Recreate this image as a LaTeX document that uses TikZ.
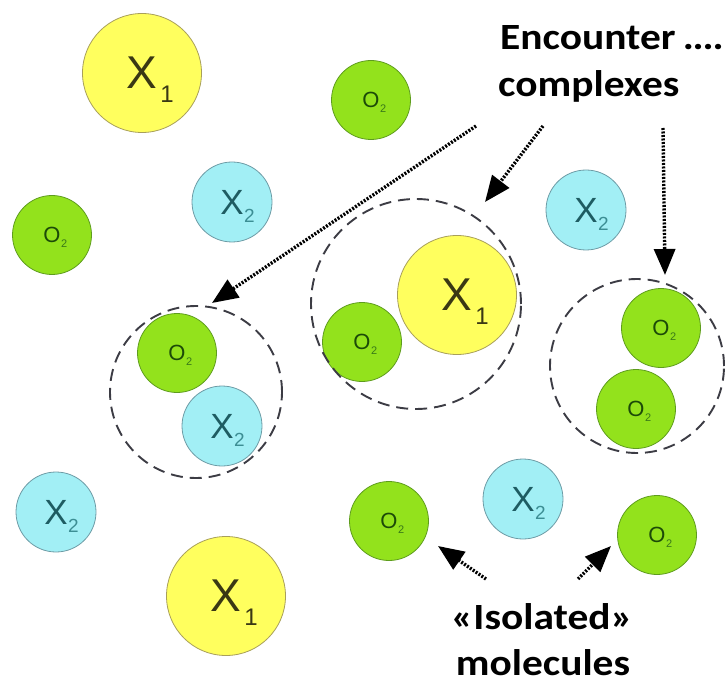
\documentclass[tikz,border=0pt]{standalone}
\usepackage{fontspec}
\usetikzlibrary{arrows.meta}
\newfontfamily\molfont{Liberation Sans}
\newfontfamily\tagfont{Carlito}
\definecolor{yf}{HTML}{FFFF5E}
\definecolor{yb}{HTML}{A89F5A}
\definecolor{gf}{HTML}{93E21C}
\definecolor{gb}{HTML}{5E9C1E}
\definecolor{cf}{HTML}{A2EFF5}
\definecolor{cb}{HTML}{6E9CA6}
\definecolor{xonec}{HTML}{3A3814}
\definecolor{xtwoc}{HTML}{1E5C62}
\definecolor{xtwos}{HTML}{3C8E94}
\definecolor{otwoc}{HTML}{1C4A08}
\definecolor{otwos}{HTML}{3A7A18}
\definecolor{dgray}{HTML}{3C3C44}
\newcommand{\labXone}{{\fontsize{46}{46}\selectfont X}\rlap{\smash{\raisebox{-14pt}{\kern3pt\fontsize{24}{24}\selectfont 1}}}}
\newcommand{\labXtwo}{{\fontsize{35}{35}\selectfont X}\rlap{\smash{\raisebox{-8pt}{\kern0.5pt\color{xtwos}\fontsize{19}{19}\selectfont 2}}}}
\newcommand{\labOtwo}{{\fontsize{22}{22}\selectfont O}\rlap{\smash{\raisebox{-5pt}{\kern0.5pt\color{otwos}\fontsize{11}{11}\selectfont 2}}}}
\tikzset{
  mol/.style={circle, inner sep=0pt, line width=0.8pt},
  xone/.style={mol, draw=yb, fill=yf, minimum size=119pt,
    label={[text=xonec, font=\molfont, inner sep=0pt]center:\labXone}},
  xtwo/.style={mol, draw=cb, fill=cf, minimum size=80pt,
    label={[text=xtwoc, font=\molfont, inner sep=0pt]center:\labXtwo}},
  otwo/.style={mol, draw=gb, fill=gf, minimum size=79pt,
    label={[text=otwoc, font=\molfont, inner sep=0pt]center:\labOtwo}},
  cplx/.style={circle, draw=dgray, line width=1.9pt, dash pattern=on 12pt off 7pt, inner sep=0pt},
  ptr/.style={line width=3.4pt, dash pattern=on 2pt off 1.5pt, -{Triangle[length=26pt,width=21pt]}},
  tag/.style={font=\tagfont\bfseries\fontsize{37}{37}\selectfont, inner sep=0pt, text=black}
}
\begin{document}
\begin{tikzpicture}[x=1pt, y=-1pt]
\useasboundingbox (0,0) rectangle (727,684);
% molecules
\node[xone] (xa) at (142,73) {};
\node[xone] (xb) at (457,295) {};
\node[xone] (xc) at (226,596) {};
\node[xtwo] (ya) at (232,202) {};
\node[xtwo] (yb) at (586,210) {};
\node[xtwo] (yc) at (222,426) {};
\node[xtwo] (yd) at (56,512) {};
\node[xtwo] (ye) at (523,499) {};
\node[otwo] (oa) at (371,100) {};
\node[otwo] (ob) at (52,235) {};
\node[otwo] (oc) at (177,353) {};
\node[otwo] (od) at (362,342) {};
\node[otwo] (oe) at (661,328) {};
\node[otwo] (of) at (636,409) {};
\node[otwo] (og) at (389,521) {};
\node[otwo] (oh) at (657,535) {};
% encounter complexes
\node[cplx, minimum size=172pt] (cl) at (196,392) {};
\node[cplx, minimum size=210pt] (cm) at (416,304) {};
\node[cplx, minimum size=174pt] (cr) at (637,366) {};
% texts
\node[tag, anchor=base west] (t1) at (500,50) {\scalebox{1.12}[1]{Encounter\kern-2pt\ .\kern-1pt.\kern-1pt.\kern-1pt.}};
\node[tag, anchor=base west] (t2) at (498,97) {\scalebox{1.12}[1]{complexes}};
\node[tag, anchor=base] (t3) at (542,629) {\scalebox{1.12}[1]{«Isolated»}};
\node[tag, anchor=base] (t4) at (543,675) {\scalebox{1.12}[1]{molecules}};
% arrow coordinates
\coordinate (s1) at (476,126); \coordinate (e1) at (212,303);
\coordinate (s2) at (543,126); \coordinate (e2) at (485,202);
\coordinate (s3) at (663,128); \coordinate (e3) at (665,275);
\coordinate (s4) at (486,579); \coordinate (e4) at (438,546);
\coordinate (s5) at (578,579); \coordinate (e5) at (611,546);
\draw[ptr] (s1) -- (e1);
\draw[ptr] (s2) -- (e2);
\draw[ptr] (s3) -- (e3);
\draw[ptr] (s4) -- (e4);
\draw[ptr] (s5) -- (e5);
\end{tikzpicture}
\end{document}
